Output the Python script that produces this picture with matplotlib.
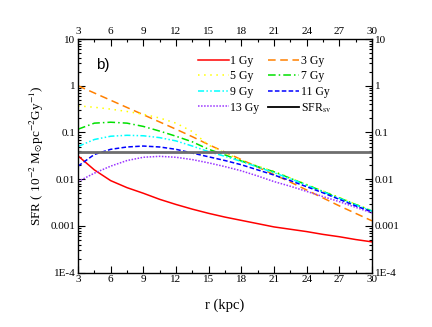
import numpy as np
import matplotlib
matplotlib.use("Agg")
import matplotlib.pyplot as plt
from matplotlib.lines import Line2D
from matplotlib.ticker import FixedLocator, FixedFormatter, LogLocator, NullFormatter

plt.rcParams['font.family'] = ['Liberation Serif', 'DejaVu Serif']
plt.rcParams['mathtext.fontset'] = 'stix'

r = [3, 4.5, 6, 7.5, 9, 10.5, 12, 13.5, 15, 16.5, 18, 19.5, 21, 22.5, 24, 25.5, 27, 28.5, 30]

# log10(SFR) values
log_1gy = [-1.50, -1.80, -2.03, -2.18, -2.30, -2.43, -2.54, -2.64, -2.73, -2.81, -2.88,
           -2.95, -3.02, -3.07, -3.12, -3.18, -3.23, -3.29, -3.34]
log_3gy = [0.00, -0.155, -0.31, -0.465, -0.62, -0.775, -0.93, -1.09, -1.26, -1.42, -1.58,
           -1.74, -1.90, -2.06, -2.23, -2.40, -2.57, -2.73, -2.89]
log_5gy = [-0.43, -0.46, -0.50, -0.55, -0.61, -0.69, -0.80, -0.98, -1.27, -1.44, -1.59,
           -1.72, -1.83, -1.97, -2.11, -2.25, -2.39, -2.53, -2.67]
log_7gy = [-0.93, -0.80, -0.78, -0.80, -0.87, -0.97, -1.08, -1.20, -1.36, -1.48, -1.61,
           -1.73, -1.84, -1.98, -2.12, -2.26, -2.40, -2.54, -2.68]
log_9gy = [-1.30, -1.15, -1.08, -1.06, -1.07, -1.11, -1.18, -1.29, -1.41, -1.51, -1.62,
           -1.74, -1.86, -1.99, -2.13, -2.27, -2.41, -2.55, -2.68]
log_11gy = [-1.72, -1.47, -1.36, -1.31, -1.29, -1.31, -1.36, -1.44, -1.52, -1.60, -1.69,
            -1.80, -1.91, -2.03, -2.16, -2.29, -2.43, -2.57, -2.70]
log_13gy = [-2.05, -1.87, -1.72, -1.60, -1.53, -1.51, -1.53, -1.58, -1.65, -1.73, -1.82,
            -1.93, -2.05, -2.15, -2.26, -2.37, -2.48, -2.60, -2.72]
sfr_sv = 0.039

labels = ['1 Gy', '3 Gy', '5 Gy', '7 Gy', '9 Gy', '11 Gy', '13 Gy']
colors = ['#ff0000', '#ff8000', '#ffff00', '#00e000', '#00ffff', '#0000ff', '#9933ff']
styles = ['-', (0, (5, 3)), (0, (1, 3)), (0, (5, 2, 1, 2)), (0, (4, 1.5, 1, 1.5, 1, 1.5)),
          (0, (3, 1.5)), (0, (1, 1))]
series = [log_1gy, log_3gy, log_5gy, log_7gy, log_9gy, log_11gy, log_13gy]

xticks = [3, 6, 9, 12, 15, 18, 21, 24, 27, 30]
yticks = [1e-4, 1e-3, 1e-2, 1e-1, 1, 10]
ytick_labels = ['1E-4', '0.001', '0.01', '0.1', '1', '10']

fig = plt.figure(figsize=(4.32, 3.27), dpi=100)
ax = fig.add_axes([0.1806, 0.166, 0.6804, 0.7147])

for vals, c, ls in zip(series, colors, styles):
    ax.plot(r, 10 ** np.array(vals), color=c, linestyle=ls, lw=1.1)
ax.axhline(sfr_sv, color='#6e6e6e', lw=2.0)

ax.set_yscale('log')
ax.set_xlim(3, 30)
ax.set_ylim(1e-4, 10)

ax.xaxis.set_major_locator(FixedLocator(xticks))
ax.xaxis.set_minor_locator(FixedLocator([x + 1.5 for x in xticks[:-1]]))
ax.yaxis.set_major_locator(FixedLocator(yticks))
ax.yaxis.set_major_formatter(FixedFormatter(ytick_labels))
ax.yaxis.set_minor_locator(LogLocator(base=10, subs=np.arange(2, 10)))
ax.yaxis.set_minor_formatter(NullFormatter())

ax.tick_params(which='both', direction='in', top=True, right=True,
               labeltop=True, labelright=True, labelsize=8, pad=2, width=0.8)
ax.tick_params(which='major', length=5)
ax.tick_params(which='minor', length=2.5)
for s in ax.spines.values():
    s.set_linewidth(1.0)

ax.set_xlabel('r (kpc)', fontsize=10.5, labelpad=10)
ax.set_ylabel(r'SFR ( 10$^{-2}$ M$_{\odot}$pc$^{-2}$Gy$^{-1}$)', fontsize=9.5, labelpad=3)

ax.text(0.062, 0.889, 'b)', transform=ax.transAxes, fontsize=11,
        family='Liberation Sans', va='center', ha='left')

handles = [Line2D([], [], color=c, linestyle=ls, lw=1.1) for c, ls in zip(colors, styles)]
handles.append(Line2D([], [], color='black', lw=1.3))
all_labels = labels + [r'SFR$_{\rm sv}$']
# arrange row-wise in 2 columns
order = [0, 2, 4, 6, 1, 3, 5, 7]
ax.legend([handles[i] for i in order], [all_labels[i] for i in order], ncol=2,
          loc='upper left', bbox_to_anchor=(0.408, 0.932), frameon=False, fontsize=8.5,
          handlelength=2.6, handletextpad=0.15, columnspacing=0.75, labelspacing=0.3,
          borderaxespad=0.0, borderpad=0.0)

fig.savefig('out.png', dpi=100)
